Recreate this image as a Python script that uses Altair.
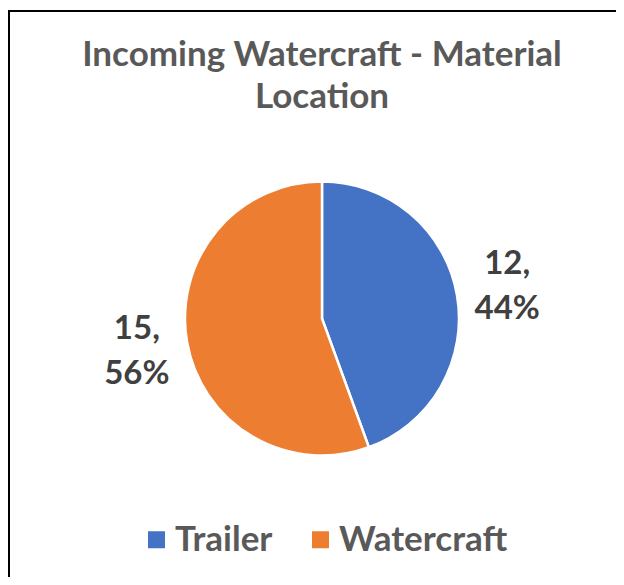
import altair as alt
import pandas as pd

categories = ["Trailer", "Watercraft"]
values = [12, 15]
colors = ["#4472C4", "#ED7D31"]
title_lines = ["Incoming Watercraft - Material", "Location"]

total = sum(values)
df = pd.DataFrame({
    "cat": categories,
    "val": values,
    "order": list(range(len(categories))),
})
df["label"] = [f"{v},\n{round(v / total * 100)}%" for v in values]

W, H = 608, 569
CX, CY, R = 314, 310.5, 137
FONT = "Lato"

base = alt.Chart(df).encode(
    theta=alt.Theta("val:Q", stack=True),
    order=alt.Order("order:Q"),
)

pie = base.mark_arc(x=CX, y=CY, outerRadius=R, stroke="white", strokeWidth=2.5).encode(
    color=alt.Color(
        "cat:N",
        scale=alt.Scale(domain=categories, range=colors),
        legend=alt.Legend(
            title=None,
            orient="none",
            legendX=131,
            legendY=514,
            direction="horizontal",
            symbolType="square",
            symbolSize=289,
            symbolStrokeWidth=0,
            labelFont=FONT,
            labelFontSize=35,
            labelFontWeight="bold",
            labelColor="#595959",
            labelOffset=1,
            columnPadding=30,
            padding=0,
            labelLimit=400,
        ),
    )
)

labels = base.mark_text(
    x=CX, y=CY, radius=188, font=FONT, fontSize=33, fontWeight="bold",
    color="#404040", lineBreak="\n", lineHeight=45, align="center",
    baseline="middle", dy=-22,
).encode(text="label:N")

border = alt.Chart(df).mark_rect(
    fill="transparent", stroke="black", strokeWidth=2, clip=True
).encode(
    x=alt.value(1), x2=alt.value(W + 40), y=alt.value(3), y2=alt.value(H + 40)
)

chart = alt.layer(border, pie, labels).properties(
    width=W,
    height=H,
    padding=0,
    autosize=alt.AutoSizeParams(type="none"),
    title=alt.TitleParams(
        text=title_lines,
        font=FONT,
        fontSize=35,
        fontWeight="bold",
        color="#595959",
        anchor="middle",
        baseline="alphabetic",
        offset=0,
        dx=10,
        dy=135,
        lineHeight=42,
    ),
).configure_view(stroke="transparent", strokeWidth=0)

chart.save("out.html", embed_options={"renderer": "svg", "actions": False})
